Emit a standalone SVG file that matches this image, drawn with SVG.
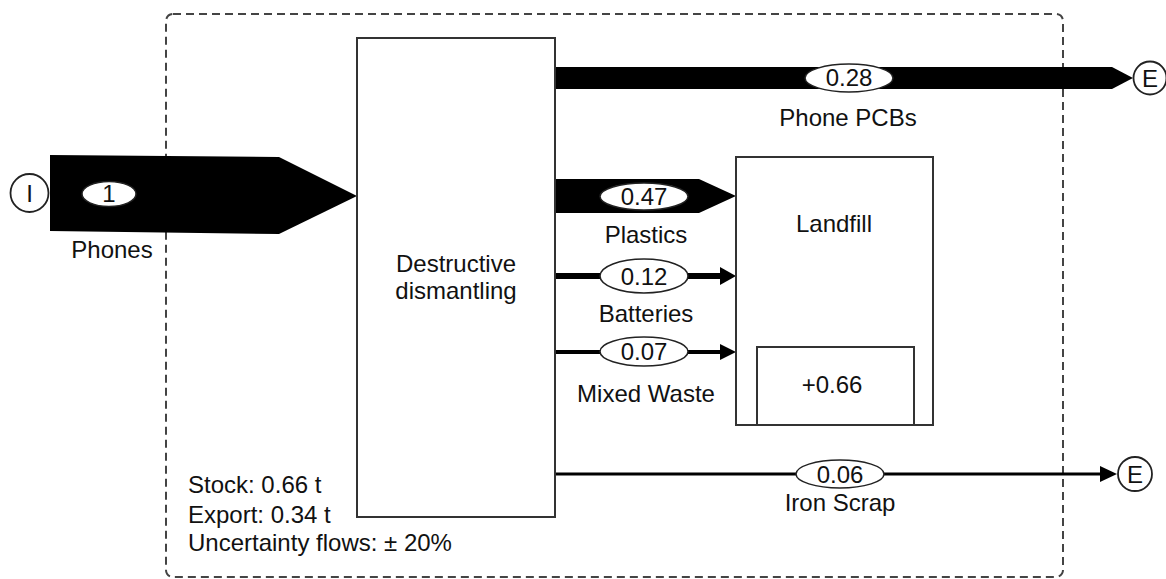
<svg xmlns="http://www.w3.org/2000/svg" width="1166" height="579" viewBox="0 0 1166 579">
<style>
text{font-family:"Liberation Sans",Arial,sans-serif;font-size:24px;fill:#111;text-anchor:middle}
.box{fill:#fff;stroke:#333;stroke-width:2}
.flow{fill:#000;stroke:none}
.line{stroke:#000;fill:none}
.val{fill:#fff;stroke:#222;stroke-width:1.5}
.term{fill:#fff;stroke:#222;stroke-width:1.8}
.left{text-anchor:start}
</style>
<rect id="boundary" x="166" y="14" width="897" height="563" rx="7" fill="none" stroke="#444" stroke-width="2" stroke-dasharray="8,5"/>
<g id="connectors">
  <polygon class="flow" points="50,155 279,157 357,196 279,234 50,231"/>
  <polygon class="flow" points="555,67 1112,67 1133,78 1112,89 555,89"/>
  <polygon class="flow" points="555,179 699,179 736,196 699,213 555,213"/>
  <line class="line" x1="555" y1="276" x2="722" y2="276" stroke-width="6"/>
  <polygon class="flow" points="720,267 736,276 720,285"/>
  <line class="line" x1="555" y1="352" x2="722" y2="352" stroke-width="4"/>
  <polygon class="flow" points="720,344 736,352 720,360"/>
  <line class="line" x1="555" y1="474" x2="1102" y2="474" stroke-width="3"/>
  <polygon class="flow" points="1100,466 1117,474 1100,482"/>
  <g id="label-phones"><ellipse class="val" cx="109" cy="194" rx="27" ry="12.5"/><text x="109" y="202">1</text><text x="112" y="258">Phones</text></g>
  <g id="label-pcb"><ellipse class="val" cx="849" cy="78" rx="44" ry="14"/><text x="849" y="86">0.28</text><text x="848" y="126">Phone PCBs</text></g>
  <g id="label-plastics"><ellipse class="val" cx="644" cy="196.5" rx="44" ry="13.5"/><text x="644" y="205">0.47</text><text x="646" y="243">Plastics</text></g>
  <g id="label-batteries"><ellipse class="val" cx="644" cy="276" rx="44" ry="17"/><text x="644" y="284.5">0.12</text><text x="646" y="322">Batteries</text></g>
  <g id="label-mixed"><ellipse class="val" cx="644" cy="351.5" rx="44" ry="14.5"/><text x="644" y="360">0.07</text><text x="646" y="402">Mixed Waste</text></g>
  <g id="label-iron"><ellipse class="val" cx="840" cy="474" rx="44" ry="14"/><text x="840" y="482.5">0.06</text><text x="840" y="511">Iron Scrap</text></g>
</g>
<g id="node-import"><circle class="term" cx="29.5" cy="193" r="19"/><text x="29.5" y="201.5">I</text></g>
<g id="node-dismantling"><rect class="box" x="357" y="38" width="198" height="479"/><text x="456" y="272">Destructive</text><text x="456" y="299">dismantling</text></g>
<g id="node-landfill"><rect class="box" x="736" y="157" width="197" height="268"/><text x="834" y="232">Landfill</text><rect class="box" x="757" y="347" width="157" height="78"/><text x="832" y="393">+0.66</text></g>
<g id="node-export-pcb"><circle class="term" cx="1150" cy="78" r="16.5"/><text x="1150" y="86.5">E</text></g>
<g id="node-export-iron"><circle class="term" cx="1135" cy="474" r="17"/><text x="1135" y="482.5">E</text></g>
<g id="info"><text class="left" x="188" y="493">Stock: 0.66 t</text><text class="left" x="188" y="523">Export: 0.34 t</text><text class="left" x="188" y="551">Uncertainty flows: ± 20%</text></g>
</svg>
